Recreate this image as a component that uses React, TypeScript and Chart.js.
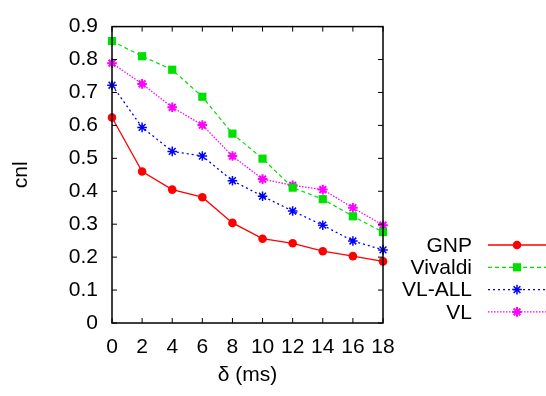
import React, { useEffect, useRef } from "react";
import { Chart, registerables } from "chart.js";

Chart.register(...registerables);

const deltaMs = [0, 2, 4, 6, 8, 10, 12, 14, 16, 18];
const gnp = [0.624, 0.46, 0.405, 0.382, 0.304, 0.256, 0.242, 0.218, 0.203, 0.187];
const vivaldi = [0.856, 0.81, 0.769, 0.687, 0.575, 0.499, 0.411, 0.376, 0.324, 0.276];
const vlAll = [0.722, 0.594, 0.521, 0.507, 0.432, 0.385, 0.34, 0.297, 0.249, 0.222];
const vl = [0.789, 0.726, 0.655, 0.601, 0.507, 0.437, 0.418, 0.405, 0.35, 0.297];

const xTicks = [0, 2, 4, 6, 8, 10, 12, 14, 16, 18];
const yTicks = [0, 0.1, 0.2, 0.3, 0.4, 0.5, 0.6, 0.7, 0.8, 0.9];

const FONT = "'Liberation Sans', Arial, Helvetica, sans-serif";
const TICK_SIZE = 21;
const LEGEND_SIZE = 21;

const toPts = (ys: number[]) => ys.map((y, i) => ({ x: deltaMs[i], y }));

function drawMarker(ctx: CanvasRenderingContext2D, style: string, x: number, y: number, r: number, color: string, lw: number) {
  ctx.save();
  ctx.fillStyle = color;
  ctx.strokeStyle = color;
  ctx.lineWidth = lw;
  ctx.setLineDash([]);
  if (style === "circle") {
    ctx.beginPath();
    ctx.arc(x, y, r, 0, Math.PI * 2);
    ctx.fill();
  } else if (style === "rect") {
    const s = r * Math.SQRT1_2;
    ctx.fillRect(x - s, y - s, 2 * s, 2 * s);
  } else {
    ctx.beginPath();
    ctx.moveTo(x - r, y);
    ctx.lineTo(x + r, y);
    ctx.moveTo(x, y - r);
    ctx.lineTo(x, y + r);
    const d = r * Math.SQRT1_2;
    ctx.moveTo(x - d, y - d);
    ctx.lineTo(x + d, y + d);
    ctx.moveTo(x - d, y + d);
    ctx.lineTo(x + d, y - d);
    ctx.stroke();
  }
  ctx.restore();
}

const framePlugin = {
  id: "frame",
  afterDatasetsDraw(chart: any) {
    const { ctx, chartArea: a, scales } = chart;
    ctx.save();
    ctx.strokeStyle = "#000";
    ctx.lineWidth = 1.5;
    ctx.setLineDash([]);
    ctx.strokeRect(a.left, a.top, a.right - a.left, a.bottom - a.top);
    const t = 5;
    ctx.beginPath();
    xTicks.forEach((v) => {
      const px = scales.x.getPixelForValue(v);
      ctx.moveTo(px, a.bottom);
      ctx.lineTo(px, a.bottom - t);
      ctx.moveTo(px, a.top);
      ctx.lineTo(px, a.top + t);
    });
    yTicks.forEach((v) => {
      const py = scales.y.getPixelForValue(v);
      ctx.moveTo(a.left, py);
      ctx.lineTo(a.left + t, py);
      ctx.moveTo(a.right, py);
      ctx.lineTo(a.right - t, py);
    });
    ctx.lineWidth = 1;
    ctx.stroke();
    ctx.restore();
  },
  afterDraw(chart: any) {
    const { ctx } = chart;
    const textRight = 472;
    const lineL = 488;
    const lineR = 546;
    const markX = 517;
    const y0 = 245;
    const dy = 22.3;
    chart.data.datasets.forEach((ds: any, i: number) => {
      const y = y0 + i * dy;
      ctx.save();
      ctx.fillStyle = "#000";
      ctx.font = `${LEGEND_SIZE}px ${FONT}`;
      ctx.textAlign = "right";
      ctx.textBaseline = "middle";
      ctx.fillText(ds.label, textRight, y + 1);
      ctx.strokeStyle = ds.borderColor;
      ctx.lineWidth = ds.borderWidth;
      ctx.setLineDash(ds.borderDash || []);
      ctx.beginPath();
      ctx.moveTo(lineL, y);
      ctx.lineTo(lineR, y);
      ctx.stroke();
      ctx.restore();
      drawMarker(ctx, ds.pointStyle, markX, y, ds.pointRadius, ds.borderColor, ds.pointBorderWidth);
    });
  },
};

export default function App() {
  const ref = useRef<HTMLCanvasElement>(null);
  useEffect(() => {
    if (!ref.current) return;
    const chart = new Chart(ref.current, {
      type: "line",
      data: {
        datasets: [
          {
            label: "GNP",
            data: toPts(gnp),
            borderColor: "#ff0000",
            backgroundColor: "#ff0000",
            borderWidth: 1.3,
            pointStyle: "circle",
            pointRadius: 4.3,
            pointBorderWidth: 0,
            pointBackgroundColor: "#ff0000",
            pointBorderColor: "#ff0000",
          },
          {
            label: "Vivaldi",
            data: toPts(vivaldi),
            borderColor: "#00e000",
            backgroundColor: "#00e000",
            borderWidth: 1.2,
            borderDash: [4, 3],
            pointStyle: "rect",
            pointRadius: 5.8,
            pointBorderWidth: 0,
            pointBackgroundColor: "#00e000",
            pointBorderColor: "#00e000",
          },
          {
            label: "VL-ALL",
            data: toPts(vlAll),
            borderColor: "#0000ff",
            backgroundColor: "#0000ff",
            borderWidth: 1.3,
            borderDash: [2, 3],
            pointStyle: "star",
            pointRadius: 4.8,
            pointBorderWidth: 1.5,
            pointBackgroundColor: "#0000ff",
            pointBorderColor: "#0000ff",
          },
          {
            label: "VL",
            data: toPts(vl),
            borderColor: "#ff00ff",
            backgroundColor: "#ff00ff",
            borderWidth: 1.3,
            borderDash: [1.5, 1.5],
            pointStyle: "star",
            pointRadius: 4.8,
            pointBorderWidth: 2,
            pointBackgroundColor: "#ff00ff",
            pointBorderColor: "#ff00ff",
          },
        ],
      },
      options: {
        responsive: false,
        animation: false,
        clip: false as any,
        layout: { padding: { left: 0, top: 14, right: 163, bottom: 0 } },
        plugins: { legend: { display: false }, tooltip: { enabled: false } },
        elements: { line: { tension: 0 } },
        scales: {
          x: {
            type: "linear",
            min: 0,
            max: 18,
            grid: { display: false, drawTicks: false },
            border: { display: false },
            afterBuildTicks: (s: any) => {
              s.ticks = xTicks.map((v) => ({ value: v }));
            },
            afterFit: (s: any) => {
              s.height = 73;
            },
            ticks: {
              color: "#000",
              padding: 12,
              maxRotation: 0,
              autoSkip: false,
              font: { family: FONT, size: TICK_SIZE },
              callback: (v: any) => String(v),
            },
            title: {
              display: true,
              text: "δ (ms)",
              color: "#000",
              padding: { top: 0, bottom: 8 },
              font: { family: FONT, size: TICK_SIZE },
            },
          },
          y: {
            type: "linear",
            min: 0,
            max: 0.9,
            grid: { display: false, drawTicks: false },
            border: { display: false },
            afterBuildTicks: (s: any) => {
              s.ticks = yTicks.map((v) => ({ value: v }));
            },
            afterFit: (s: any) => {
              s.width = 112;
            },
            ticks: {
              color: "#000",
              padding: 14,
              autoSkip: false,
              font: { family: FONT, size: TICK_SIZE },
              callback: (v: any) => (v === 0 ? "0" : Number(v).toFixed(1)),
            },
            title: {
              display: true,
              text: "cnl",
              color: "#000",
              padding: { top: 9, bottom: 0 },
              font: { family: FONT, size: TICK_SIZE },
            },
          },
        },
      },
      plugins: [framePlugin],
    });
    return () => chart.destroy();
  }, []);
  return (
    <div style={{ position: "fixed", left: 0, top: 0, width: 546, height: 396, background: "#fff" }}>
      <canvas ref={ref} width={546} height={396} />
    </div>
  );
}
